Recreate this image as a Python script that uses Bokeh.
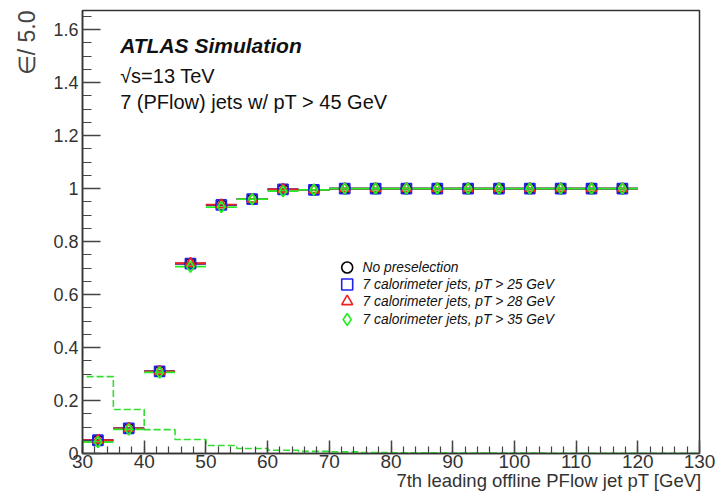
import numpy as np
from bokeh.plotting import figure
from bokeh.models import FixedTicker, Label, Range1d, Title
from bokeh.embed import file_html
from bokeh.resources import INLINE

# ---- data ----
bin_lo = [30, 35, 40, 45, 50, 55, 60, 65, 70, 75, 80, 85, 90, 95, 100, 105, 110, 115]
bin_hi = [35, 40, 45, 50, 55, 60, 65, 70, 75, 80, 85, 90, 95, 100, 105, 110, 115, 120]
bin_c = [32.5, 37.5, 42.5, 47.5, 52.5, 57.5, 62.5, 67.5, 72.5, 77.5, 82.5, 87.5, 92.5, 97.5, 102.5, 107.5, 112.5, 117.5]
eff_nopresel = [0.050, 0.095, 0.310, 0.717, 0.938, 0.960, 0.997, 0.995, 1.0, 1.0, 1.0, 1.0, 1.0, 1.0, 1.0, 1.0, 1.0, 1.0]
eff_pt25 = [0.050, 0.095, 0.310, 0.717, 0.938, 0.960, 0.997, 0.995, 1.0, 1.0, 1.0, 1.0, 1.0, 1.0, 1.0, 1.0, 1.0, 1.0]
eff_pt28 = [0.050, 0.095, 0.310, 0.718, 0.939, 0.960, 0.997, 0.995, 1.0, 1.0, 1.0, 1.0, 1.0, 1.0, 1.0, 1.0, 1.0, 1.0]
eff_pt35 = [0.043, 0.091, 0.306, 0.705, 0.930, 0.960, 0.990, 0.995, 1.0, 1.0, 1.0, 1.0, 1.0, 1.0, 1.0, 1.0, 1.0, 1.0]

hist_edges = [25, 30, 35, 40, 45, 50, 55, 60, 65, 70, 75, 80, 85, 90, 95, 100, 105, 110, 115, 120, 125, 130]
hist_vals = [0.46, 0.29, 0.166, 0.090, 0.053, 0.030, 0.019, 0.012, 0.008, 0.006, 0.004, 0.003, 0.0025,
             0.002, 0.0018, 0.0015, 0.0012, 0.001, 0.001, 0.0008, 0.0006]

x_ticks = [30, 40, 50, 60, 70, 80, 90, 100, 110, 120, 130]
y_ticks = [0, 0.2, 0.4, 0.6, 0.8, 1.0, 1.2, 1.4, 1.6]
y_tick_labels = ["0", "0.2", "0.4", "0.6", "0.8", "1", "1.2", "1.4", "1.6"]

legend_labels = ["No preselection", "7 calorimeter jets, pT > 25 GeV",
                 "7 calorimeter jets, pT > 28 GeV", "7 calorimeter jets, pT > 35 GeV"]

x_title = "7th leading offline PFlow jet pT [GeV]"
y_title = "\u2208/ 5.0"

FONT = "Liberation Sans"

p = figure(width=717, height=493, output_backend="svg", toolbar_location=None,
           x_range=Range1d(30, 130), y_range=Range1d(0, 1.672),
           min_border_left=82, min_border_right=18, min_border_top=10, min_border_bottom=40)
p.grid.visible = False
p.background_fill_color = "white"
p.border_fill_color = "white"
p.outline_line_color = "#333333"
p.outline_line_width = 1.5

# axes
p.xaxis.ticker = FixedTicker(ticks=x_ticks, minor_ticks=list(np.arange(30, 131, 2)))
p.yaxis.ticker = FixedTicker(ticks=y_ticks, minor_ticks=list(np.round(np.arange(0, 1.67, 0.05), 3)))
p.yaxis.major_label_overrides = {t: l for t, l in zip(y_ticks, y_tick_labels)}
for ax in (p.xaxis[0], p.yaxis[0]):
    ax.axis_line_color = "#333333"
    ax.axis_line_width = 1.5
    ax.major_tick_out = 0
    ax.minor_tick_out = 0
    ax.major_tick_line_color = "#444444"
    ax.minor_tick_line_color = "#444444"
    ax.major_tick_line_width = 1.5
    ax.minor_tick_line_width = 1.2
    ax.major_label_text_font = FONT
    ax.major_label_text_color = "#333333"
p.xaxis.major_label_text_font_size = "19px"
p.yaxis.major_label_text_font_size = "18px"
p.xaxis.major_tick_in = 13
p.xaxis.minor_tick_in = 7
p.yaxis.major_tick_in = 18
p.yaxis.minor_tick_in = 9
p.xaxis.major_label_standoff = 1
p.yaxis.major_label_standoff = 4

# axis titles as side titles
p.add_layout(Title(text=x_title, align="right", text_font=FONT, text_font_size="18.5px",
                   text_font_style="normal", text_color="#333333", standoff=-5, offset=-2), "below")
p.add_layout(Title(text=y_title, align="right", text_font=FONT, text_font_size="23px",
                   text_font_style="normal", text_color="#444444", standoff=22, offset=0), "left")

# step histogram (dashed)
hx = []
hy = []
for i, v in enumerate(hist_vals):
    hx += [hist_edges[i], hist_edges[i + 1]]
    hy += [v, v]
p.line(hx, hy, line_color="#33dd33", line_width=1.6, line_dash="7 3")

# series
series = [
    (eff_nopresel, "black", "circle"),
    (eff_pt25, "#2222ee", "square"),
    (eff_pt28, "#ee2222", "triangle"),
    (eff_pt35, "#22ee22", "diamond"),
]
for vals, col, mk in series:
    p.segment(x0=bin_lo, x1=bin_hi, y0=vals, y1=vals, line_color=col, line_width=1.8)
for vals, col, mk in series:
    p.scatter(bin_c, vals, marker=mk, size=10 if mk != "diamond" else 11,
              fill_color=None, line_color=col, line_width=1.8)

# legend (manual)
leg_x = 72.9
leg_ys = [0.702, 0.638, 0.574, 0.506]
for (vals, col, mk), ly, lab in zip(series, leg_ys, legend_labels):
    p.scatter([leg_x], [ly], marker=mk, size=11 if mk != "diamond" else 12,
              fill_color=None, line_color=col, line_width=1.6)
    p.add_layout(Label(x=75.4, y=ly, text=lab, text_font=FONT, text_font_style="italic",
                       text_font_size="13.8px", text_baseline="middle", text_color="#111111"))

# texts
p.add_layout(Label(x=36.1, y=1.54, text="ATLAS Simulation", text_font=FONT,
                   text_font_style="bold italic", text_font_size="21px",
                   text_baseline="middle", text_color="#111111"))
p.add_layout(Label(x=36.1, y=1.426, text="\u221As=13 TeV", text_font=FONT,
                   text_font_size="20px", text_baseline="middle", text_color="#111111"))
p.add_layout(Label(x=36.1, y=1.326, text="7 (PFlow) jets w/ pT > 45 GeV", text_font=FONT,
                   text_font_size="20px", text_baseline="middle", text_color="#111111"))

open("out.html", "w").write(file_html(p, INLINE))
